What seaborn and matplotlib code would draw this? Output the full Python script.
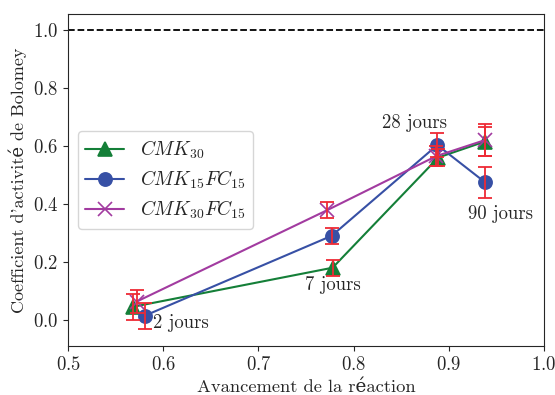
import pandas as pd
import matplotlib
matplotlib.use("Agg")
import matplotlib.pyplot as plt
import seaborn as sns

# Data
series_names = [r"$CMK_{30}$", r"$CMK_{15}FC_{15}$", r"$CMK_{30}FC_{15}$"]

x_cmk30 = [0.568, 0.778, 0.889, 0.938]
y_cmk30 = [0.045, 0.180, 0.560, 0.615]
e_cmk30 = [0.045, 0.028, 0.030, 0.050]

x_cmk15fc15 = [0.581, 0.777, 0.888, 0.938]
y_cmk15fc15 = [0.015, 0.290, 0.603, 0.475]
e_cmk15fc15 = [0.045, 0.028, 0.040, 0.054]

x_cmk30fc15 = [0.572, 0.772, 0.887, 0.938]
y_cmk30fc15 = [0.063, 0.378, 0.565, 0.620]
e_cmk30fc15 = [0.040, 0.028, 0.035, 0.055]

ages = ["2 jours", "7 jours", "28 jours", "90 jours"]
age_x = [0.589, 0.749, 0.830, 0.920]
age_y = [-0.010, 0.120, 0.680, 0.365]

colors = ["#147f38", "#3750a5", "#a23ba0"]
markers = ["^", "o", "x"]

sns.set_style("ticks")
plt.rcParams["font.family"] = ["cmr10", "DejaVu Serif"]
plt.rcParams["mathtext.fontset"] = "cm"
plt.rcParams["axes.formatter.use_mathtext"] = True

fig, ax = plt.subplots(figsize=(5.55, 3.95), dpi=100)
fig.subplots_adjust(left=0.1225, right=0.980, top=0.9646, bottom=0.124)

all_x = [x_cmk30, x_cmk15fc15, x_cmk30fc15]
all_y = [y_cmk30, y_cmk15fc15, y_cmk30fc15]
all_e = [e_cmk30, e_cmk15fc15, e_cmk30fc15]

for name, xs, ys, col, mk in zip(series_names, all_x, all_y, colors, markers):
    d = pd.DataFrame({"x": xs, "y": ys})
    sns.lineplot(data=d, x="x", y="y", color=col, marker=mk, sort=False,
                 markersize=9.5, linewidth=1.5, markeredgewidth=1.2,
                 markeredgecolor=col, label=name, ax=ax)

for xs, ys, es in zip(all_x, all_y, all_e):
    ax.errorbar(xs, ys, yerr=es, fmt="none", ecolor="#ee2a35",
                capsize=5, elinewidth=1.3, capthick=1.3, zorder=5)

ax.axhline(1.0, color="black", linestyle="--", linewidth=1.3)

for label, tx, ty in zip(ages, age_x, age_y):
    ax.text(tx, ty, label, fontsize=13.5, va="center", ha="left")

ax.set_xlim(0.5, 1.0)
ax.set_ylim(-0.09, 1.055)
ax.set_xticks([0.5, 0.6, 0.7, 0.8, 0.9, 1.0])
ax.set_yticks([0.0, 0.2, 0.4, 0.6, 0.8, 1.0])
ax.tick_params(labelsize=13.5)
ax.set_xlabel("Avancement de la réaction", fontsize=13.3)
ax.set_ylabel("Coefficient d'activité de Bolomey", fontsize=13)

handles, labels = ax.get_legend_handles_labels()
ax.legend(handles, labels, loc="center left", fontsize=14,
          labelspacing=0.4, bbox_to_anchor=(0.0, 0.5))

plt.savefig("out.png", dpi=100)
plt.close()
